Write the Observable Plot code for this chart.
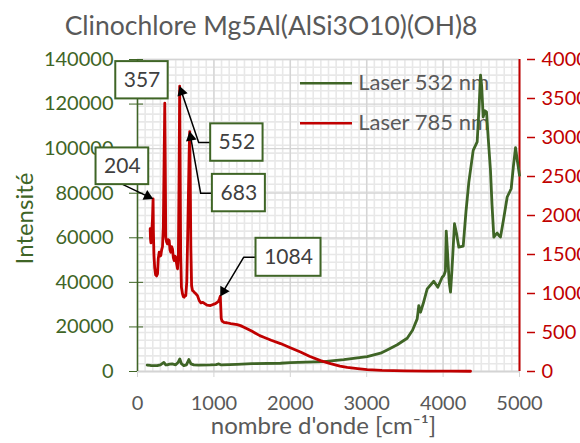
<!DOCTYPE html>
<html><head><meta charset="utf-8">
<script src="https://cdn.jsdelivr.net/npm/d3@7"></script>
<script src="https://cdn.jsdelivr.net/npm/@observablehq/plot@0.6"></script>
<style>
html,body{margin:0;padding:0;background:#fff;}
#wrap{position:relative;width:580px;height:443px;overflow:hidden;}
#title{position:absolute;z-index:2;left:0;top:9px;width:542px;text-align:center;font-family:Lato;font-size:26.5px;color:#595959;line-height:32px;white-space:nowrap;}
#wrap svg{position:absolute;left:0;top:0;}
</style></head><body>
<div id="wrap"><div id="title">Clinochlore Mg5Al(AlSi3O10)(OH)8</div></div>
<script>
// ---- data ----
const seriesNames = ["Laser 532 nm", "Laser 785 nm"];
const xTicks = [0, 1000, 2000, 3000, 4000, 5000];
const leftTicks = [0, 20000, 40000, 60000, 80000, 100000, 120000, 140000];
const rightTicks = [0, 500, 1000, 1500, 2000, 2500, 3000, 3500, 4000];

// Laser 785 nm (right axis)
const wn785 = [166,170,176,186,196,204,208,215,225,237,250,262,272,284,295,305,316,327,338,348,357,364,370,381,392,403,415,425,436,447,458,469,480,490,501,512,524,535,545,552,558,565,575,589,600,611,622,632,645,660,676,683,690,698,708,720,731,742,760,785,808,830,851,880,910,955,990,1020,1043,1060,1072,1084,1090,1096,1108,1130,1170,1220,1305,1348,1400,1500,1600,1653,1750,1872,2000,2133,2250,2395,2526,2650,2745,2880,3006,3200,3500,3800,4100,4359];
const int785 = [1830,1700,1650,1780,1950,2213,1800,1500,1330,1240,1225,1250,1450,1530,1480,1486,1560,1600,1850,2700,3439,2600,1720,1660,1636,1690,1679,1560,1529,1600,1572,1460,1422,1480,1465,1380,1316,1500,2600,3657,2700,1500,1080,995,960,952,975,973,1150,1900,2800,3076,2500,1600,1100,1037,1030,1016,1000,973,909,880,887,870,850,845,860,870,887,900,930,964,820,680,645,631,625,615,601,588,565,515,460,439,400,358,305,250,195,140,100,70,54,38,24,14,8,5,4,3];

// Laser 532 nm (left axis)
const wn532 = [127,170,258,300,345,370,389,420,454,500,530,554,575,606,640,672,700,737,800,955,1030,1064,1090,1108,1300,1500,1872,2000,2200,2439,2700,3006,3181,3268,3400,3530,3600,3661,3682,3704,3740,3792,3878,3931,3988,4010,4030,4041,4055,4080,4097,4115,4149,4175,4206,4263,4300,4337,4394,4446,4470,4490,4505,4525,4545,4568,4590,4620,4640,4664,4690,4708,4730,4751,4790,4839,4891,4920,4948,4970,5000];
const int532 = [2900,2700,2650,3000,4100,3000,2960,3300,3400,3000,4000,5650,3500,2650,3000,5350,3400,2960,2900,2960,3100,3400,3000,2960,3200,3500,3700,4000,4200,4450,5300,6700,8200,9700,12000,14900,18500,23600,29600,26600,30500,37100,40500,37800,42300,43100,45000,63000,55000,40000,35600,45000,66300,62000,55800,56300,72000,85000,99200,103000,118000,133000,128000,114200,117000,116500,105000,90300,75000,60300,61500,62100,61000,60300,68000,78300,82000,92000,100400,95000,88000];

// annotated peaks (Laser 785 nm)
const peakWn = [204, 357, 552, 683, 1084];
const peakLabels = ["204", "357", "552", "683", "1084"];

// ---- layout ----
const W = 580, H = 443, ML = 137, MR = 61, MT = 59, MB = 72;
const FW = W - ML - MR;
const K = 140000 / 4000; // right -> left axis factor
const green = "#3f6526", red = "#c00000", gray = "#595959";
const xs = Plot.scale({x: {domain: [0, 5000], range: [ML, W - MR]}});
const ys = Plot.scale({y: {domain: [0, 140000], range: [H - MB, MT]}});

const s785 = wn785.map((x, i) => ({x, v: int785[i] * K}));
const s532 = wn532.map((x, i) => ({x, v: int532[i]}));

const minorX = d3.range(0, 5001, 100);
const minorY = d3.range(0, 4001, 100).map(v => v * K);

// annotation placement (pixel offsets from peak tip): box center dx, dy, w, h; elbow path
const annLayout = [
  {box: [-30.7, -32.6, 52.7, 36.7], path: [[-30, -14.3]]},
  {box: [-22.8, -23, 52.4, 37.3], path: []},
  {box: [57.2, 56.3, 52.4, 37.4], path: [[31, 56.3], [19, 56.3]]},
  {box: [49.2, 61.5, 53, 37.4], path: [[22.7, 61.8], [11, 61.8]]},
  {box: [68.2, -39, 65, 38], path: [[35.7, -39], [23.3, -39]]}
];
const boxes = [], arrowLines = [], heads = [];
peakWn.forEach((wn, i) => {
  const j = wn785.indexOf(wn);
  const tx = xs.apply(wn), ty = ys.apply(int785[j] * K);
  const [bx, by, bw, bh] = annLayout[i].box;
  const cx = tx + bx, cy = ty + by;
  boxes.push({x1: xs.invert(cx - bw / 2), x2: xs.invert(cx + bw / 2), y1: ys.invert(cy + bh / 2), y2: ys.invert(cy - bh / 2), cx: xs.invert(cx), cy: ys.invert(cy), label: peakLabels[i]});
  const p = annLayout[i].path;
  if (p.length) {
    const [lx, ly] = p[p.length - 1];
    const len = Math.hypot(lx, ly);
    const ux = -lx / len, uy = -ly / len;
    const hx = tx - ux * 6, hy = ty - uy * 6;
    p.forEach(([px, py]) => arrowLines.push({k: i, x: xs.invert(tx + px), y: ys.invert(ty + py)}));
    arrowLines.push({k: i, x: xs.invert(hx), y: ys.invert(hy)});
    heads.push({x: xs.invert(hx), y: ys.invert(hy), a: Math.atan2(ux, -uy) * 180 / Math.PI});
  }
});

const plot = Plot.plot({
  width: W, height: H, marginLeft: ML, marginRight: MR, marginTop: MT, marginBottom: MB,
  x: {domain: [0, 5000], label: null},
  y: {domain: [0, 140000], label: null},
  style: {fontFamily: "Lato", fontSize: "20px", background: "transparent", overflow: "visible"},
  marks: [
    Plot.ruleX(minorX, {x: d => d, stroke: "#e8e8e8", strokeWidth: 1.6}),
    Plot.ruleY(minorY, {y: d => d, stroke: "#e8e8e8", strokeWidth: 1.6}),
    Plot.ruleX(xTicks, {x: d => d, stroke: "#d4d4d4", strokeWidth: 1.3}),
    Plot.ruleY(leftTicks, {y: d => d, stroke: "#d4d4d4", strokeWidth: 1.3}),
    Plot.axisX({ticks: xTicks, tickFormat: d => String(d), tickSize: 6, tickPadding: 18, stroke: "#d4d4d4", fill: gray, fontSize: 20, label: null}),
    Plot.axisY({anchor: "left", ticks: leftTicks, tickFormat: d => String(d), tickSize: 8, tickPadding: 16, stroke: green, fill: green, fontSize: 20, label: null}),
    Plot.tickY(leftTicks, {y: d => d, stroke: green, insetRight: FW - 6}),
    // right axis: outward ticks + labels
    Plot.tickY(rightTicks, {y: d => d * K, stroke: red, strokeWidth: 1.5, insetLeft: FW, dx: 8, insetRight: -8}),
    Plot.text(rightTicks, {y: d => d * K, text: d => String(d), frameAnchor: "right", textAnchor: "start", dx: 22, fill: red, fontSize: 20}),
    Plot.ruleY([0], {stroke: "#d4d4d4", strokeWidth: 1.5}),
    Plot.ruleX([0], {stroke: green, strokeWidth: 1.5}),
    Plot.ruleX([5000], {stroke: red, strokeWidth: 2}),
    Plot.text(["Intensité"], {frameAnchor: "left", textAnchor: "middle", lineAnchor: "middle", rotate: -90, dx: -112, dy: 3, fill: green, fontSize: 24}),
    Plot.text(["nombre d'onde [cm⁻¹]"], {frameAnchor: "bottom", textAnchor: "middle", lineAnchor: "middle", dx: -5, dy: 55, fill: gray, fontSize: 24}),
    // legend
    Plot.ruleY([ys.invert(82.7)], {y: d => d, x1: xs.invert(300), x2: xs.invert(352), stroke: green, strokeWidth: 2.5}),
    Plot.ruleY([ys.invert(122.7)], {y: d => d, x1: xs.invert(300), x2: xs.invert(352), stroke: red, strokeWidth: 2.5}),
    Plot.text([seriesNames[0]], {x: xs.invert(357.7), y: ys.invert(82.7), textAnchor: "start", fill: gray, fontSize: 22}),
    Plot.text([seriesNames[1]], {x: xs.invert(357.7), y: ys.invert(122.7), textAnchor: "start", fill: gray, fontSize: 22}),
    // series
    Plot.line(s532, {x: "x", y: "v", stroke: green, strokeWidth: 2.8, strokeLinejoin: "round"}),
    Plot.line(s785, {x: "x", y: "v", stroke: red, strokeWidth: 2.8, strokeLinejoin: "round"}),
    // annotations
    Plot.line(arrowLines, {x: "x", y: "y", z: "k", stroke: "black", strokeWidth: 1.5}),
    Plot.dot(heads, {x: "x", y: "y", rotate: "a", symbol: "triangle", r: 4, fill: "black", stroke: null}),
    Plot.rect(boxes, {x1: "x1", x2: "x2", y1: "y1", y2: "y2", fill: "white", stroke: green, strokeWidth: 2}),
    Plot.text(boxes, {x: "cx", y: "cy", text: "label", fill: "#404040", fontSize: 21})
  ]
});
document.getElementById("wrap").appendChild(plot);
</script>
</body></html>
